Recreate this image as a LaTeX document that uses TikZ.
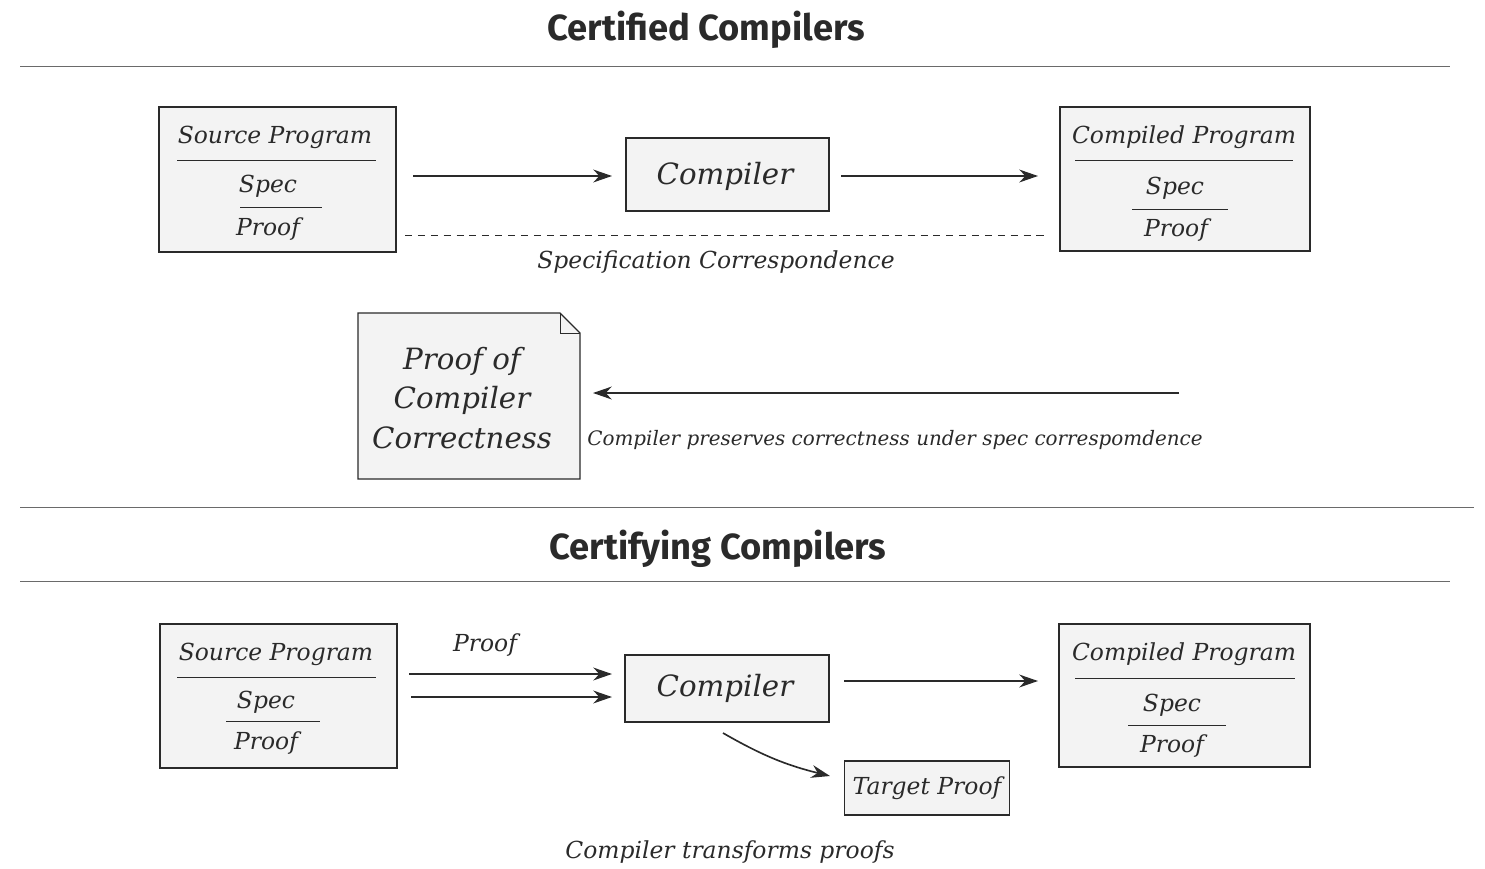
\documentclass[tikz,border=0pt]{standalone}
\usepackage{fontspec}
\setmainfont{DejaVu Serif}
\newfontfamily\titlefont{Fira Sans}
\usetikzlibrary{arrows.meta}
\definecolor{ink}{HTML}{2A2A2A}
\definecolor{boxfill}{HTML}{F3F3F3}
\tikzset{
  box/.style={draw=ink, fill=boxfill, line width=1.1pt},
  lbl/.style={text=ink, font=\itshape\fontsize{20}{22}\selectfont},
  big/.style={text=ink, font=\itshape\fontsize{25}{28}\selectfont},
  ttl/.style={text=ink, font=\titlefont\bfseries\fontsize{31}{34}\selectfont},
  rule/.style={draw=ink!70, line width=0.7pt},
  flow/.style={draw=ink, line width=1.4pt, -{Stealth[length=16pt,width=11pt]}}
}
\begin{document}
\begin{tikzpicture}[x=0.03cm, y=-0.03cm]
\useasboundingbox (0,0) rectangle (1485,868);

% certified
\node[ttl] (t1) at (706,30) {Certified Compilers};
\draw[rule] (20,66) -- (1450,66);

\draw[box] (159,107) rectangle (396,252);
\node[lbl] (src1) at (275,137) {Source Program};
\draw[ink] (177,160) -- (376,160);
\node[lbl] (spec1) at (268,186) {Spec};
\draw[ink] (240,207) -- (322,207);
\node[lbl] (prf1) at (268,229) {Proof};
\coordinate (s1out) at (413,176);

\draw[box] (626,138) rectangle (829,211);
\node[big] (comp1) at (725,176) {Compiler};
\coordinate (c1in) at (612,176);
\coordinate (c1out) at (841,176);

\draw[box] (1060,107) rectangle (1310,251);
\node[lbl] (tgt1) at (1184,137) {Compiled Program};
\draw[ink] (1075,160) -- (1293,160);
\node[lbl] (tspec1) at (1175,188) {Spec};
\draw[ink] (1132,209) -- (1228,209);
\node[lbl] (tprf1) at (1176,230) {Proof};
\coordinate (t1in) at (1038,176);

\draw[flow] (s1out) -- (c1in);
\draw[flow] (c1out) -- (t1in);

\draw[ink, dashed, dash pattern=on 6pt off 5pt] (405,235) -- (1047,235);
\node[lbl] (corr) at (716,262) {Specification Correspondence};

\draw[box] (358,313) -- (560,313) -- (580,333) -- (580,479) -- (358,479) -- cycle;
\draw[ink, line width=0.8pt] (560,313) -- (560,333) -- (580,333);
\node[big, align=center] (pcc) at (462,398) {Proof of\\[6pt]Compiler\\[6pt]Correctness};
\coordinate (pres) at (1179,393);
\draw[flow] (pres) -- (593,393);
\node[lbl, font=\itshape\fontsize{17}{20}\selectfont] (preslbl) at (895,440) {Compiler preserves correctness under spec correspomdence};

\draw[rule] (20,507) -- (1474,507);

% certifying
\node[ttl] (t2) at (718,549) {Certifying Compilers};
\draw[rule] (20,581) -- (1450,581);

\draw[box] (160,624) rectangle (397,768);
\node[lbl] (src2) at (276,654) {Source Program};
\draw[ink] (177,677) -- (376,677);
\node[lbl] (spec2) at (266,702) {Spec};
\draw[ink] (226,721) -- (320,721);
\node[lbl] (prf2) at (266,743) {Proof};

\draw[box] (625,655) rectangle (829,722);
\node[big] (comp2) at (725,688) {Compiler};

\draw[box] (1059,624) rectangle (1310,767);
\node[lbl] (tgt2) at (1184,654) {Compiled Program};
\draw[ink] (1075,678) -- (1295,678);
\node[lbl] (tspec2) at (1172,705) {Spec};
\draw[ink] (1128,725) -- (1226,725);
\node[lbl] (tprf2) at (1172,746) {Proof};

\coordinate (s2a) at (409,674);
\coordinate (s2b) at (411,697);
\draw[flow] (s2a) -- (612,674);
\draw[flow] (s2b) -- (612,697);
\node[lbl] (plbl) at (485,645) {Proof};
\coordinate (c2out) at (844,681);
\draw[flow] (c2out) -- (1038,681);

\node[box, lbl, minimum width=165*0.03cm, minimum height=54*0.03cm] (tp) at (927,788) {Target Proof};
\coordinate (c2low) at (723,733);
\coordinate (tpin) at (830,776);
\draw[flow] (c2low) to[bend right=8] (tpin);
\node[lbl] (xlbl) at (730,852) {Compiler transforms proofs};
\end{tikzpicture}
\end{document}
